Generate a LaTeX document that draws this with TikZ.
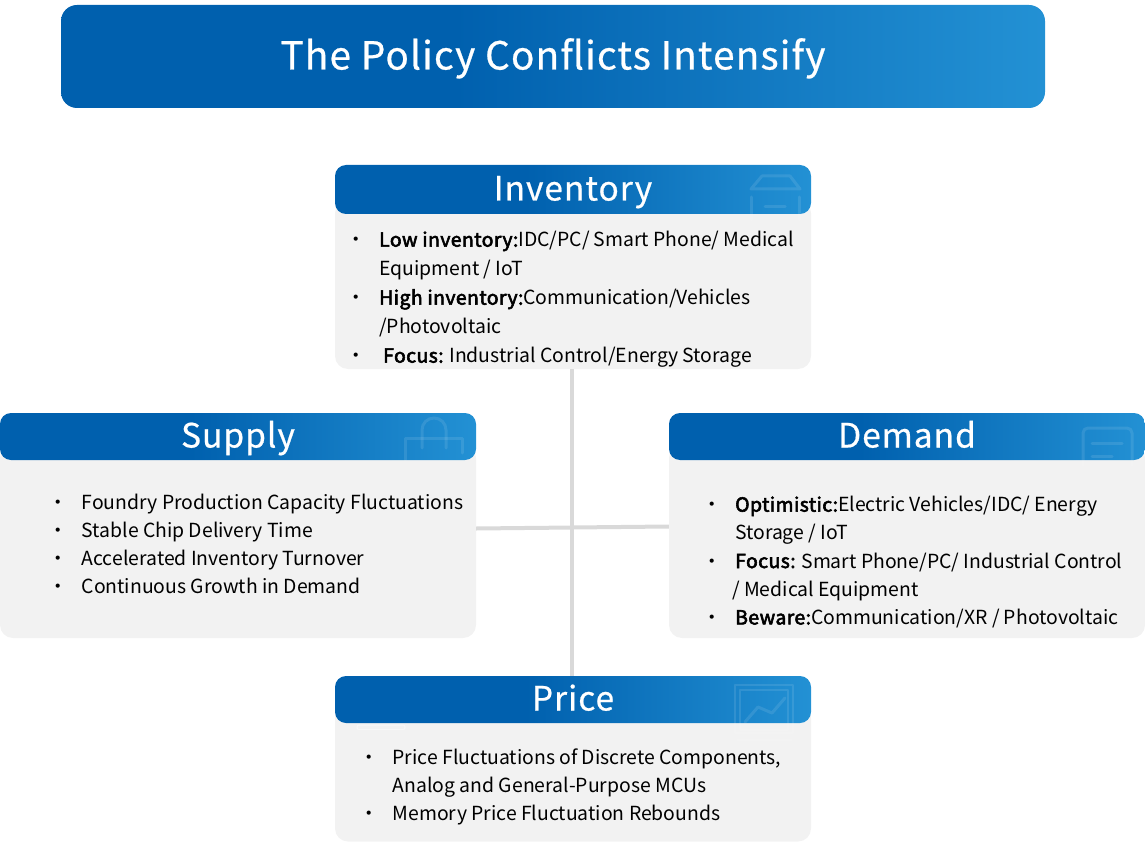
\documentclass[tikz,border=0pt]{standalone}
\usepackage{fontspec}
\setmainfont{Noto Sans CJK SC}
\newfontfamily\headfont[LetterSpace=3,FakeBold=0.6]{Noto Sans CJK SC}
\newfontfamily\strongfont[FakeBold=3,LetterSpace=2.2]{Noto Sans CJK SC}
\definecolor{bodygray}{HTML}{F2F2F2}
\definecolor{linkgray}{HTML}{D9D9D9}
\definecolor{bluea}{HTML}{0060AE}
\definecolor{blueb}{HTML}{2391D4}
\pgfdeclarehorizontalshading{headgrad}{100bp}{color(0bp)=(bluea);color(45bp)=(bluea);color(75bp)=(blueb);color(100bp)=(blueb)}
\newcommand{\bl}[1]{\makebox[28pt][l]{\hspace*{-5pt}•}#1}
\newcommand{\ct}[1]{\hspace*{28pt}#1}
\newcommand{\st}[1]{{\strongfont #1}}
\tikzset{
  x=1pt,y=-1pt,
  titlebox/.style={rounded corners=16pt,shading=headgrad,inner sep=0,text=white,text height=32pt,text depth=6pt,font=\headfont\fontsize{38.7}{46}\selectfont},
  headbox/.style={rounded corners=11pt,shading=headgrad,inner sep=0,text=white,text height=28pt,text depth=6pt,font=\headfont\fontsize{33.5}{40}\selectfont,minimum width=476pt},
  bodybox/.style={rounded corners=13pt,fill=bodygray,inner sep=0,minimum width=476pt},
  bodytext/.style={inner sep=0,align=left,anchor=north west,font=\fontsize{19.4}{#1}\selectfont},
  link/.style={draw=linkgray,line width=4pt},
  iconline/.style={draw=white,draw opacity=.1,line width=3pt,line cap=round,line join=round},
}
\begin{document}
\begin{tikzpicture}
\useasboundingbox (0,0) rectangle (1145,842);
% title
\node[titlebox,minimum width=984pt,minimum height=103pt] (title) at (553,56.5) {The Policy Conflicts Intensify};
% bodies
\node[bodybox,minimum height=169pt] (invbody) at (573,284.5) {};
\node[bodybox,minimum height=193pt] (supbody) at (238,541.5) {};
\node[bodybox,minimum height=193pt] (dembody) at (907,541.5) {};
\node[bodybox,minimum height=136pt] (pricebody) at (573,773.5) {};
% headers
\node[headbox,minimum height=49pt] (invhead) at (573,189.5) {Inventory};
\node[headbox,minimum height=47pt] (suphead) at (238,436.5) {Supply};
\node[headbox,minimum height=47pt] (demhead) at (907,436.5) {Demand};
\node[headbox,minimum height=47pt] (pricehead) at (573,699.5) {Price};
% connectors
\draw[link] ([xshift=-1pt]invbody.south) -- ([xshift=-1pt]pricehead.north);
\draw[link] ([yshift=13pt]supbody.east) -- ([yshift=15pt]dembody.west);
% icons
\draw[iconline] (751,189) -- (762,176) -- (790,176) -- (800,189) -- cycle;
\draw[iconline] (751,197) -- (751,220) (799,197) -- (799,220) (765,207) -- (785,207);
\draw[iconline] (422,448) -- (422,430) arc[start angle=180,end angle=360,radius=12] -- (446,448);
\draw[iconline] (405,460) -- (405,438) -- (462,438) -- (462,453);
\draw[iconline,rounded corners=5pt] (1083,465) -- (1083,428) -- (1132,428) -- (1132,465);
\draw[iconline] (1092,443) -- (1122,443) (1092,456) -- (1112,456);
\draw[iconline,line width=2pt] (735,685) rectangle (793,733);
\draw[iconline,line width=2pt] (740,690) rectangle (788,730);
\draw[iconline,line width=2pt] (737,740) -- (792,740);
\draw[iconline] (745,722) -- (758,707) -- (772,713) -- (785,698);
\draw[draw=white,draw opacity=.5,line width=1pt,rounded corners=2pt] (357,725) rectangle (405,729.5);
% texts
\node[bodytext=29] (invtext) at (351,231) {\bl{\st{Low inventory:}IDC/PC/ Smart Phone/ Medical}\\\ct{Equipment / IoT}\\\bl{\st{High inventory:}Communication/Vehicles}\\\ct{/Photovoltaic}\\\bl{\hspace*{4pt}\st{Focus:} Industrial Control/Energy Storage}};
\node[bodytext=28] (suptext) at (53.5,494) {\bl{Foundry Production Capacity Fluctuations}\\\bl{Stable Chip Delivery Time}\\\bl{Accelerated Inventory Turnover}\\\bl{Continuous Growth in Demand}};
\node[bodytext=28.2] (demtext) at (707,496) {\bl{\st{Optimistic:}Electric Vehicles/IDC/ Energy}\\\ct{Storage / IoT}\\\bl{\st{Focus:} Smart Phone/PC/ Industrial Control}\\\ct{\hspace*{-3pt}/ Medical Equipment}\\\bl{\st{Beware:}Communication/XR / Photovoltaic}};
\node[bodytext=28] (pricetext) at (364.5,749) {\bl{Price Fluctuations of Discrete Components,}\\\ct{Analog and General-Purpose MCUs}\\\bl{Memory Price Fluctuation Rebounds}};
\end{tikzpicture}
\end{document}
